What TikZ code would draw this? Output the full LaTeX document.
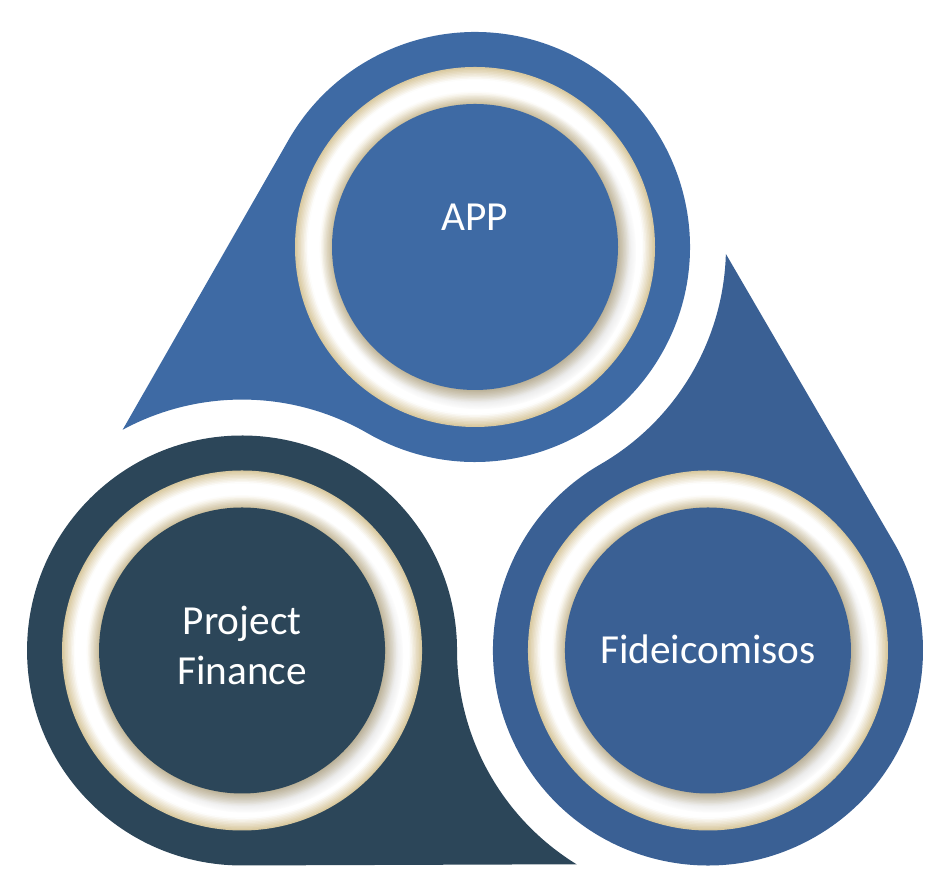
\documentclass[tikz,border=0pt]{standalone}
\usepackage{fontspec}
\setmainfont{Carlito}
\usetikzlibrary{calc,positioning,shadows}
\definecolor{appblue}{HTML}{3E6AA4}
\definecolor{fidblue}{HTML}{3A6094}
\definecolor{pfdark}{HTML}{2C4659}
\definecolor{ringtone}{HTML}{D9C9A0}
\newcommand{\outr}{4.3}
\newcommand{\gapr}{5.02}
% drop: centre, neighbour, turn, colour
\newcommand{\dropsh}[4]{%
  \fill[#4] ($(#2)+(118.4+#3:\gapr)$) -- ($(#1)+(149.8+#3:\outr)$)
    arc[start angle=149.8+#3, end angle=-120+#3, radius=\outr]
    arc[start angle=60+#3, end angle=118.4+#3, radius=\gapr] -- cycle;}
% cream ring, beige at both edges
\newcommand{\ringsh}[1]{%
  \foreach \i in {0,...,25}{%
    \pgfmathsetmacro{\rr}{3.6-\i*0.029}%
    \pgfmathtruncatemacro{\pw}{max(0,min(100,100*min((3.6-\rr)/0.24,(\rr-2.86)/0.26)))}%
    \fill[white!\pw!ringtone] (#1) circle (\rr);}}
\tikzset{
    innersty/.style={circle,minimum size=5.72cm,inner sep=0pt,
      circular drop shadow={shadow xshift=0.07cm,shadow yshift=-0.09cm,opacity=0.4}},
    labelsty/.style={text=white,align=center,font=\fontsize{23.5}{28.5}\selectfont},
}

\begin{document}
\begin{tikzpicture}
  \useasboundingbox (0,0) rectangle (18.62,17.42);
  \coordinate (o) at (9.5,7.1);
  \coordinate (appc) at ($(o)+(90:5.38)$);
  \coordinate (fidc) at ($(o)+(-30:5.38)$);
  \coordinate (pfc) at ($(o)+(210:5.38)$);

  % drops
  \dropsh{appc}{pfc}{0}{appblue}
  \dropsh{fidc}{appc}{240}{fidblue}
  \dropsh{pfc}{fidc}{120}{pfdark}

  % rings and circles
  \ringsh{appc}
  \ringsh{fidc}
  \ringsh{pfc}
  \node[innersty,fill=appblue] (app) at (appc) {};
  \node[innersty,fill=fidblue] (fid) at (fidc) {};
  \node[innersty,fill=pfdark] (pf) at (pfc) {};

  \node[labelsty] (apptxt) at ([yshift=0.6cm]app.center) {APP};
  \node[labelsty] (fidtxt) at ([yshift=0.03cm]fid.center) {Fideicomisos};
  \node[labelsty] (pftxt) at ([yshift=0.1cm]pf.center) {Project\\Finance};
\end{tikzpicture}
\end{document}
